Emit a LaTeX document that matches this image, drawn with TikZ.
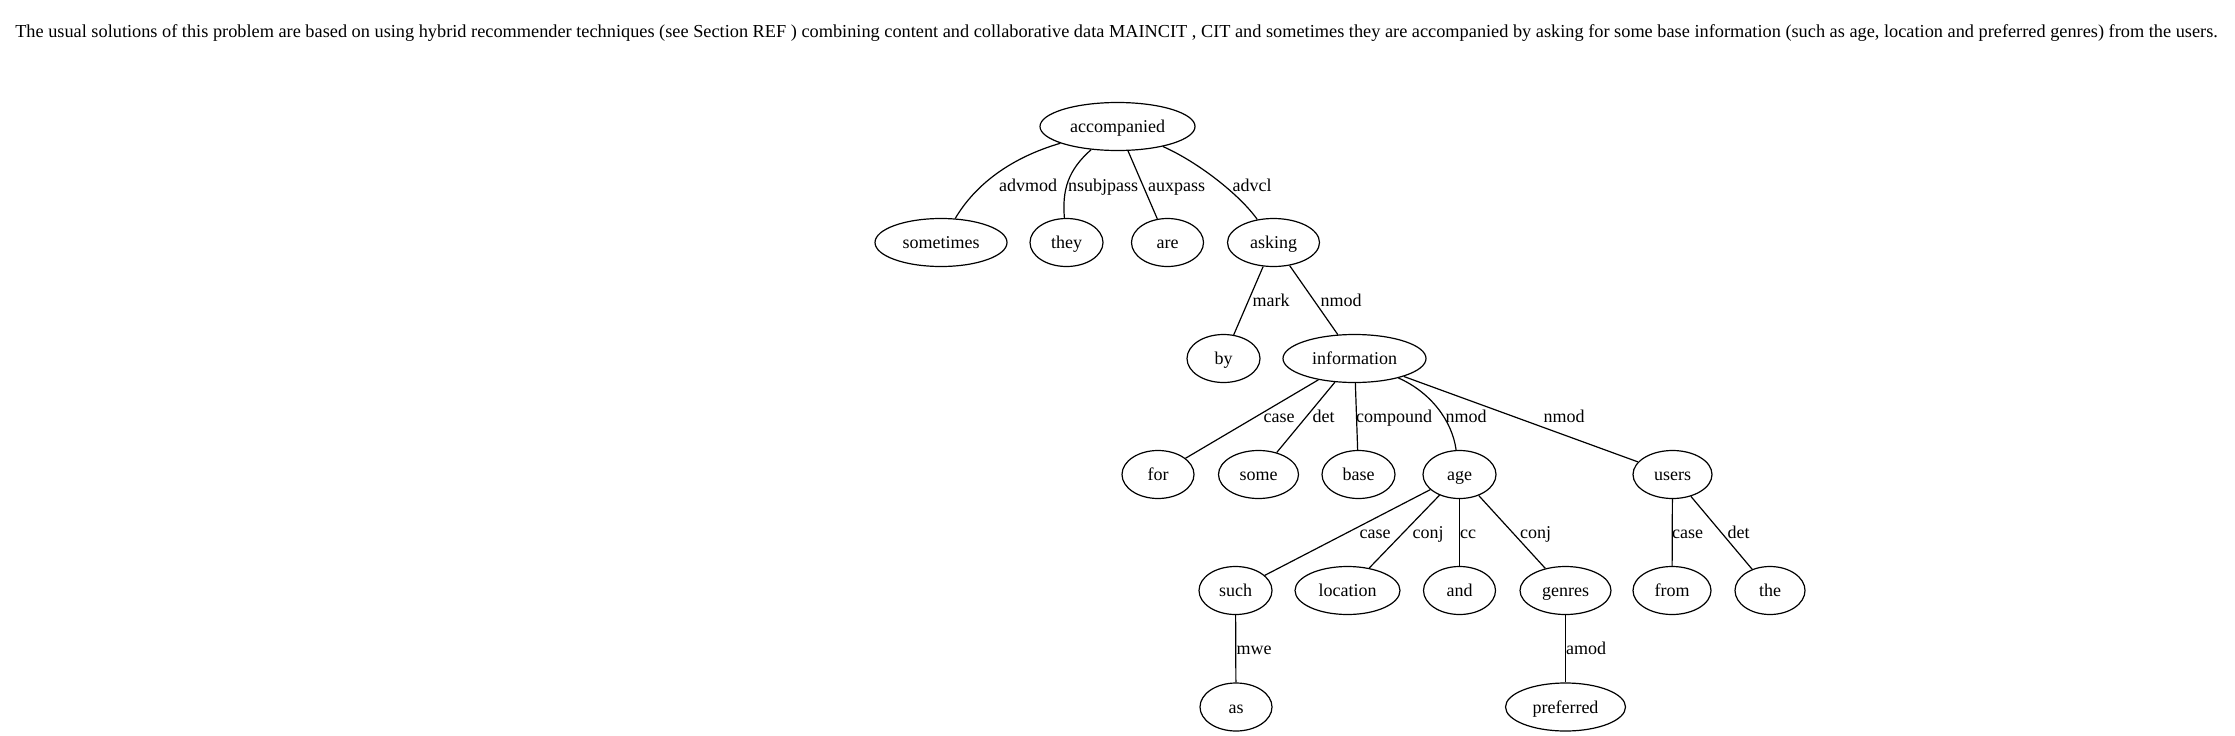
\documentclass[tikz,border=0pt]{standalone}
\usepackage{fontspec}
\setmainfont{Liberation Serif}
\usetikzlibrary{shapes.geometric}
\begin{document}
\begin{tikzpicture}[x=1pt,y=-1pt,
  wn/.style={draw, ellipse, line width=1.2pt, inner sep=0pt, minimum height=48pt, text height=12pt, text depth=0pt, font=\fontsize{18}{20}\selectfont},
  lb/.style={anchor=base, inner sep=0pt, font=\fontsize{18}{20}\selectfont},
  ttl/.style={anchor=base, inner sep=0pt, font=\fontsize{18.3}{20}\selectfont},
  ed/.style={line width=1.2pt}]
\useasboundingbox (0,0) rectangle (2235,736);
\node[ttl] (title) at (1116.5,37) {The usual solutions of this problem are based on using hybrid recommender techniques (see Section REF ) combining content and collaborative data MAINCIT , CIT and sometimes they are accompanied by asking for some base information (such as age, location and preferred genres) from the users.};
% nodes
\node[wn, minimum width=155pt] (acc) at (1117.5,126.5) {accompanied};
\node[wn, minimum width=132pt] (som) at (941,242.5) {sometimes};
\node[wn, minimum width=73pt] (they) at (1066.5,242.5) {they};
\node[wn, minimum width=72pt] (are) at (1167.5,242.5) {are};
\node[wn, minimum width=92pt] (ask) at (1273.5,242.5) {asking};
\node[wn, minimum width=73pt] (by) at (1223.5,358.5) {by};
\node[wn, minimum width=143pt] (info) at (1354.5,358.5) {information};
\node[wn, minimum width=72pt] (for) at (1158,474.5) {for};
\node[wn, minimum width=80pt] (some) at (1258.5,474.5) {some};
\node[wn, minimum width=73pt] (base) at (1358.5,474.5) {base};
\node[wn, minimum width=73pt] (age) at (1459.5,474.5) {age};
\node[wn, minimum width=79pt] (users) at (1672.5,474.5) {users};
\node[wn, minimum width=73pt] (such) at (1235.5,590.5) {such};
\node[wn, minimum width=105pt] (loc) at (1347.5,590.5) {location};
\node[wn, minimum width=72pt] (and) at (1459.5,590.5) {and};
\node[wn, minimum width=91pt] (genres) at (1565.5,590.5) {genres};
\node[wn, minimum width=78pt] (from) at (1672,590.5) {from};
\node[wn, minimum width=70pt] (the) at (1770,590.5) {the};
\node[wn, minimum width=72pt] (as) at (1236,707) {as};
\node[wn, minimum width=120pt] (pref) at (1565.5,707) {preferred};
% edges
\draw[ed] (acc) .. controls (1010,158) and (975,185) .. (som);
\draw[ed] (acc) .. controls (1068,170) and (1062,190) .. (they);
\draw[ed] (acc) -- (are);
\draw[ed] (acc) .. controls (1198,162) and (1240,195) .. (ask);
\draw[ed] (ask) -- (by);
\draw[ed] (ask) -- (info);
\draw[ed] (info) -- (for);
\draw[ed] (info) -- (some);
\draw[ed] (info) -- (base);
\draw[ed] (info) .. controls (1430,392) and (1452,420) .. (age);
\draw[ed] (info) -- (users);
\draw[ed] (age) -- (such);
\draw[ed] (age) -- (loc);
\draw[ed] (age) -- (and);
\draw[ed] (age) -- (genres);
\draw[ed] (users) -- (from);
\draw[ed] (users) -- (the);
\draw[ed] (such) -- (as);
\draw[ed] (genres) -- (pref);
% labels
\node[lb] (l1) at (1028,191) {advmod};
\node[lb] (l2) at (1103,191) {nsubjpass};
\node[lb] (l3) at (1176.5,191) {auxpass};
\node[lb] (l4) at (1252,191) {advcl};
\node[lb] (l5) at (1271,306) {mark};
\node[lb] (l6) at (1341,306) {nmod};
\node[lb] (l7) at (1279,422) {case};
\node[lb] (l8) at (1323.5,422) {det};
\node[lb] (l9) at (1394,422) {compound};
\node[lb] (l10) at (1466,422) {nmod};
\node[lb] (l11) at (1564,422) {nmod};
\node[lb] (l12) at (1375,538) {case};
\node[lb] (l13) at (1428,538) {conj};
\node[lb] (l14) at (1468,538) {cc};
\node[lb] (l15) at (1535.5,538) {conj};
\node[lb] (l16) at (1687.5,538) {case};
\node[lb] (l17) at (1738.5,538) {det};
\node[lb] (l18) at (1254,654) {mwe};
\node[lb] (l19) at (1586,654) {amod};
\end{tikzpicture}
\end{document}
